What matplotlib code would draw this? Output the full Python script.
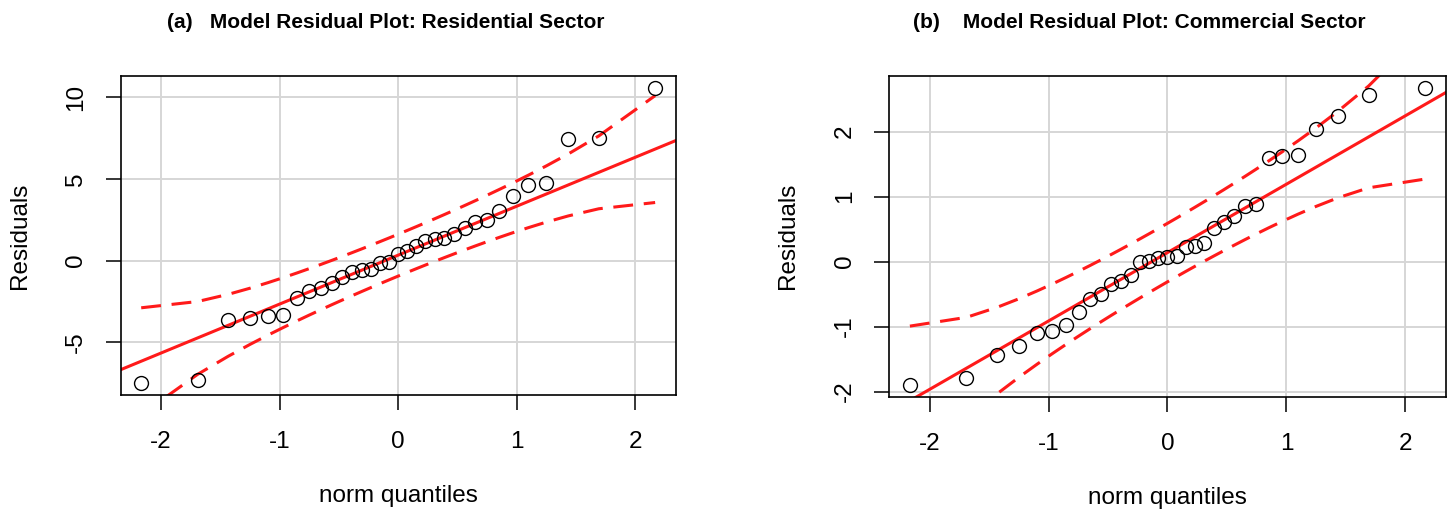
import math

import numpy as np
import matplotlib.pyplot as plt

plt.rcParams['font.family'] = ['Liberation Sans', 'DejaVu Sans']
plt.rcParams['axes.unicode_minus'] = False

# theoretical normal quantiles of the 33 residuals
NORM_Q = [-2.166, -1.691, -1.434, -1.248, -1.097, -0.967, -0.853, -0.748, -0.651,
          -0.560, -0.473, -0.389, -0.309, -0.230, -0.153, -0.076, 0.0,
          0.076, 0.153, 0.230, 0.309, 0.389, 0.473, 0.560, 0.651, 0.748,
          0.853, 0.967, 1.097, 1.248, 1.434, 1.691, 2.166]

# sorted residuals
RESID_RES = [-7.50, -7.32, -3.61, -3.51, -3.42, -3.36, -2.26, -1.84, -1.69, -1.35,
             -0.98, -0.71, -0.55, -0.51, -0.12, -0.08, 0.37, 0.61, 0.88, 1.18,
             1.32, 1.35, 1.63, 2.00, 2.35, 2.45, 3.06, 3.93, 4.61, 4.75,
             7.44, 7.52, 10.58]
RESID_COM = [-1.895, -1.79, -1.44, -1.29, -1.10, -1.06, -0.98, -0.78, -0.57, -0.49,
             -0.34, -0.29, -0.21, 0.00, 0.015, 0.06, 0.07, 0.08, 0.23, 0.24,
             0.29, 0.52, 0.61, 0.71, 0.85, 0.89, 1.60, 1.62, 1.64, 2.04,
             2.24, 2.56, 2.68]

TITLES = ['(a)   Model Residual Plot: Residential Sector',
          '(b)    Model Residual Plot: Commercial Sector']
Y_TICKS = [[-5, 0, 5, 10], [-2, -1, 0, 1, 2]]
X_TICKS = [-2, -1, 0, 1, 2]

RED = '#ff1a1a'
GRID = '#d6d6d6'


def pad_range(vals, frac=0.04):
    lo, hi = min(vals), max(vals)
    d = (hi - lo) * frac
    return lo - d, hi + d


def qq_panel(ax, z, resid, yticks):
    z = np.asarray(z)
    r = np.asarray(resid)
    n = len(r)
    # robust reference line through the quartiles (as car::qqPlot does)
    q1, q3 = np.percentile(r, [25, 75])
    zq = 0.6744898
    slope = (q3 - q1) / (2 * zq)
    inter = q1 + slope * zq
    fit = inter + slope * z
    # pointwise 95% envelope
    p = np.array([0.5 * (1 + math.erf(v / math.sqrt(2))) for v in z])
    dens = np.exp(-z ** 2 / 2) / math.sqrt(2 * math.pi)
    se = slope / dens * np.sqrt(p * (1 - p) / n)

    xlim = pad_range(z)
    ylim = pad_range(r)
    ax.set_xlim(*xlim)
    ax.set_ylim(*ylim)
    ax.set_xticks(X_TICKS)
    ax.set_yticks(yticks)
    ax.grid(True, color=GRID, linewidth=1.4)
    ax.set_axisbelow(True)

    xx = np.array(xlim)
    ax.plot(xx, inter + slope * xx, color=RED, linewidth=2.2, zorder=2)
    ax.plot(z, fit + 1.96 * se, color=RED, linewidth=2.2, dashes=(6.5, 3.5), zorder=2)
    ax.plot(z, fit - 1.96 * se, color=RED, linewidth=2.2, dashes=(6.5, 3.5), zorder=2)
    ax.plot(z, r, 'o', mfc='none', mec='black', mew=1.0, markersize=10, zorder=3)

    ax.tick_params(direction='out', length=11, width=1.1, labelsize=17.5)
    ax.tick_params(axis='x', pad=15)
    ax.tick_params(axis='y', pad=13)
    for lab in ax.get_yticklabels():
        lab.set_rotation(90)
        lab.set_va('center')
    for s in ax.spines.values():
        s.set_linewidth(1.2)
    ax.set_xlabel('norm quantiles', fontsize=17.5, labelpad=23)
    ax.set_ylabel('Residuals', fontsize=17.5, labelpad=25)


fig = plt.figure(figsize=(14.5, 5.12), dpi=100)
ax1 = fig.add_axes([0.0832, 0.2285, 0.3828, 0.6236])
ax2 = fig.add_axes([0.6133, 0.2252, 0.3837, 0.627])

qq_panel(ax1, NORM_Q, RESID_RES, Y_TICKS[0])
qq_panel(ax2, NORM_Q, RESID_COM, Y_TICKS[1])

fig.text(0.266, 0.957, TITLES[0], ha='center', va='center', fontsize=15,
         fontweight='bold')
fig.text(0.786, 0.957, TITLES[1], ha='center', va='center', fontsize=15,
         fontweight='bold')

fig.savefig('out.png', dpi=100)
